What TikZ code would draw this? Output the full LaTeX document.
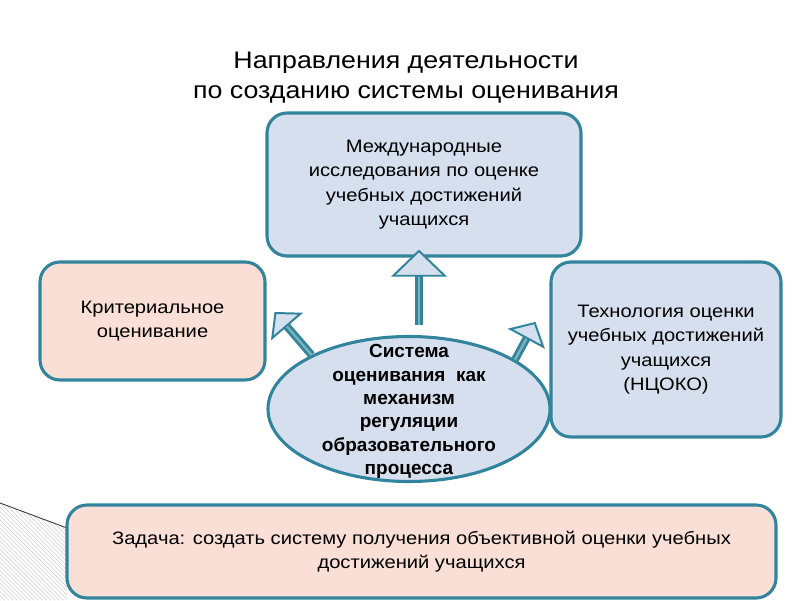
\documentclass[tikz,border=0pt]{standalone}
\usepackage{fontspec}
\setmainfont{Liberation Sans}
\newfontfamily\wideface{Liberation Sans}[FakeStretch=1.12]
\usetikzlibrary{calc,arrows.meta,shapes.geometric,patterns}

\definecolor{edgeteal}{HTML}{31849B}
\definecolor{boxblue}{HTML}{D5DFEE}
\definecolor{boxpeach}{HTML}{F9DFD5}
\definecolor{shaftcore}{HTML}{7FB3C2}

\begin{document}
\begin{tikzpicture}[x=1cm,y=1cm,
  roundbox/.style={draw=edgeteal,line width=2.2pt,rounded corners=0.5cm,align=center,
    font=\wideface\fontsize{12.8}{17.4}\selectfont,inner sep=0pt},
  fatarrow/.style 2 args={draw=edgeteal,line width=5.6pt,
    -{Triangle[length=#1,width=#2,line width=1.4pt,fill=boxblue]},
    postaction={draw=shaftcore,line width=1.6pt,-,shorten >=#1}}]
  \useasboundingbox (0,0) rectangle (20,15);
  % corner of the slide
  \fill[pattern=north west lines,pattern color=gray!35] (0,2.425) -- (1.675,1.8) -- (1.675,0) -- (0,0) -- cycle;
  \draw[black!80,line width=0.6pt] (0,2.425) -- (1.675,1.8);

  \node[font=\wideface\fontsize{17}{21.3}\selectfont,align=center] (title) at (10.15,13.05)
    {Направления деятельности\\по созданию системы оценивания};

  \node[roundbox,fill=boxblue,minimum width=7.85cm,minimum height=3.575cm] (intl) at (10.6,10.3875)
    {Международные\\исследования по оценке\\учебных достижений\\учащихся};
  \node[roundbox,fill=boxpeach,minimum width=5.625cm,minimum height=2.95cm] (crit) at (3.8125,6.975)
    {Критериальное\\оценивание};
  \node[roundbox,fill=boxblue,minimum width=5.75cm,minimum height=4.375cm] (tech) at (16.65,6.2625)
    {Технология оценки\\учебных достижений\\учащихся\\(НЦОКО)};
  \node[roundbox,fill=boxpeach,minimum width=17.725cm,minimum height=2.325cm] (task) at (10.5375,1.2125)
    {Задача: создать систему получения объективной оценки учебных\\достижений учащихся};

  \node[ellipse,draw=edgeteal,line width=2.2pt,fill=boxblue,minimum width=7.05cm,minimum height=3.625cm,
    inner sep=0pt] (sys) at (10.225,4.775) {};
  \node[align=center,font=\fontsize{13.5}{16.6}\selectfont\bfseries] (systext) at ([yshift=-0.06cm]sys.center)
    {Система\\оценивания\ \ как\\механизм\\регуляции\\образовательного\\процесса};

  \coordinate (sysup) at ($(sys.north)+(0.25,0.25)$);
  \draw[fatarrow={0.68cm}{1.4cm}] (sysup) -- (sysup |- {$(intl.south)+(0,0.2)$});
  \draw[fatarrow={0.48cm}{1.05cm}] (sys.151) -- ($(crit.east)+(0.2,0.225)$);
  \draw[fatarrow={0.48cm}{1.05cm}] (sys.25) -- ($(tech.west)+(-0.35,0.69)$);
\end{tikzpicture}
\end{document}
